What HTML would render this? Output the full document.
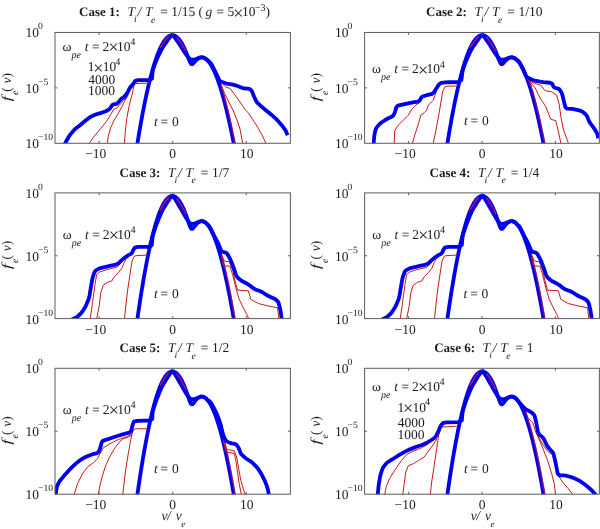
<!DOCTYPE html>
<html><head><meta charset="utf-8"><title>fe(v)</title>
<style>
html,body{margin:0;padding:0;background:#fff;}
body{width:600px;height:529px;overflow:hidden;}
#wrap{width:600px;height:529px;will-change:transform;}
svg{display:block;font-family:"Liberation Serif",serif;text-rendering:geometricPrecision;}
svg text{fill:#1c1c1c;}
</style></head><body>
<div id="wrap">
<svg width="600" height="529" viewBox="0 0 600 529">
<rect x="0" y="0" width="600" height="529" fill="#ffffff"/>
<defs>
<clipPath id="c1"><rect x="55.00" y="32.45" width="235.40" height="110.85"/></clipPath>
<clipPath id="c2"><rect x="364.60" y="32.45" width="234.80" height="110.85"/></clipPath>
<clipPath id="c3"><rect x="55.00" y="192.90" width="235.40" height="125.70"/></clipPath>
<clipPath id="c4"><rect x="364.60" y="192.90" width="234.80" height="125.70"/></clipPath>
<clipPath id="c5"><rect x="55.00" y="368.30" width="235.40" height="125.90"/></clipPath>
<clipPath id="c6"><rect x="364.60" y="368.30" width="234.80" height="125.90"/></clipPath>
</defs>
<g clip-path="url(#c1)" fill="none" stroke-linejoin="round" stroke-linecap="butt">
<path d="M128.16 176.56 L128.53 176.56 L128.90 176.56 L129.27 176.56 L129.63 176.56 L130.00 176.56 L130.37 176.56 L130.74 176.56 L131.10 176.56 L131.47 176.56 L131.84 176.56 L132.21 176.56 L132.58 175.59 L132.94 173.00 L133.31 170.44 L133.68 167.90 L134.05 165.38 L134.42 162.89 L134.78 160.42 L135.15 157.98 L135.52 155.56 L135.89 153.17 L136.25 150.79 L136.62 148.45 L136.99 146.13 L137.36 143.83 L137.73 141.55 L138.09 139.30 L138.46 137.07 L138.83 134.87 L139.20 132.69 L139.56 130.54 L139.93 128.41 L140.30 126.30 L140.67 124.22 L141.04 122.16 L141.40 120.13 L141.77 118.12 L142.14 116.13 L142.51 114.17 L142.87 112.23 L143.24 110.32 L143.61 108.43 L143.98 106.56 L144.35 104.72 L144.71 102.91 L145.08 101.11 L145.45 99.34 L145.82 97.60 L146.19 95.88 L146.55 94.18 L146.92 92.51 L147.29 90.86 L147.66 89.23 L148.02 87.63 L148.39 86.06 L148.76 84.50 L149.13 82.98 L149.50 81.47 L149.86 79.99 L150.23 78.53 L150.60 77.10 L150.97 75.69 L151.33 74.31 L151.70 72.95 L152.07 71.61 L152.44 70.30 L152.81 69.01 L153.17 67.75 L153.54 66.51 L153.91 65.30 L154.28 64.10 L154.64 62.94 L155.01 61.79 L155.38 60.67 L155.75 59.58 L156.12 58.51 L156.48 57.46 L156.85 56.44 L157.22 55.44 L157.59 54.46 L157.96 53.51 L158.32 52.59 L158.69 51.68 L159.06 50.80 L159.43 49.95 L159.79 49.12 L160.16 48.31 L160.53 47.53 L160.90 46.77 L161.27 46.04 L161.63 45.33 L162.00 44.64 L162.37 43.98 L162.74 43.34 L163.10 42.73 L163.47 42.14 L163.84 41.57 L164.21 41.03 L164.58 40.51 L164.94 40.02 L165.31 39.55 L165.68 39.11 L166.05 38.69 L166.41 38.29 L166.78 37.92 L167.15 37.57 L167.52 37.24 L167.89 36.94 L168.25 36.66 L168.62 36.41 L168.99 36.18 L169.36 35.98 L169.73 35.80 L170.09 35.64 L170.46 35.51 L170.83 35.40 L171.20 35.32 L171.56 35.26 L171.93 35.22 L172.30 35.21 L172.67 35.22 L173.04 35.26 L173.40 35.32 L173.77 35.40 L174.14 35.51 L174.51 35.64 L174.87 35.80 L175.24 35.98 L175.61 36.18 L175.98 36.41 L176.35 36.66 L176.71 36.94 L177.08 37.24 L177.45 37.57 L177.82 37.92 L178.18 38.29 L178.55 38.69 L178.92 39.11 L179.29 39.55 L179.66 40.02 L180.02 40.51 L180.39 41.03 L180.76 41.57 L181.13 42.14 L181.50 42.73 L181.86 43.34 L182.23 43.98 L182.60 44.64 L182.97 45.33 L183.33 46.04 L183.70 46.77 L184.07 47.53 L184.44 48.31 L184.81 49.12 L185.17 49.94 L185.54 50.80 L185.91 51.67 L186.28 52.57 L186.64 53.48 L187.01 54.42 L187.38 55.37 L187.75 56.34 L188.12 57.32 L188.48 58.30 L188.85 59.26 L189.22 60.21 L189.59 61.11 L189.95 61.95 L190.32 62.69 L190.69 63.31 L191.06 63.78 L191.43 64.08 L191.79 64.20 L192.16 64.18 L192.53 64.01 L192.90 63.75 L193.27 63.41 L193.63 63.02 L194.00 62.60 L194.37 62.17 L194.74 61.74 L195.10 61.32 L195.47 60.91 L195.84 60.52 L196.21 60.14 L196.58 59.79 L196.94 59.46 L197.31 59.16 L197.68 58.87 L198.05 58.61 L198.41 58.38 L198.78 58.17 L199.15 57.98 L199.52 57.82 L199.89 57.69 L200.25 57.58 L200.62 57.49 L200.99 57.43 L201.36 57.39 L201.72 57.38 L202.09 57.39 L202.46 57.43 L202.83 57.49 L203.20 57.57 L203.56 57.69 L203.93 57.82 L204.30 57.98 L204.67 58.16 L205.04 58.37 L205.40 58.60 L205.77 58.86 L206.14 59.14 L206.51 59.45 L206.87 59.77 L207.24 60.13 L207.61 60.50 L207.98 60.90 L208.35 61.32 L208.71 61.77 L209.08 62.24 L209.45 62.73 L209.82 63.25 L210.18 63.79 L210.55 64.35 L210.92 64.94 L211.29 65.55 L211.66 66.18 L212.02 66.83 L212.39 67.51 L212.76 68.21 L213.13 68.93 L213.49 69.68 L213.86 70.44 L214.23 71.23 L214.60 72.05 L214.97 72.88 L215.33 73.74 L215.70 74.62 L216.07 75.52 L216.44 76.44 L216.81 77.39 L217.17 78.35 L217.54 79.34 L217.91 80.35 L218.28 81.38 L218.64 82.44 L219.01 83.51 L219.38 84.61 L219.75 85.72 L220.12 86.86 L220.48 88.02 L220.85 89.20 L221.22 90.41 L221.59 91.63 L221.95 92.87 L222.32 94.14 L222.69 95.42 L223.06 96.73 L223.43 98.06 L223.79 99.40 L224.16 100.77 L224.53 102.16 L224.90 103.57 L225.26 105.00 L225.63 106.45 L226.00 107.92 L226.37 109.40 L226.74 110.91 L227.10 112.44 L227.47 113.99 L227.84 115.56 L228.21 117.15 L228.58 118.76 L228.94 120.38 L229.31 122.03 L229.68 123.70 L230.05 125.38 L230.41 127.09 L230.78 128.81 L231.15 130.55 L231.52 132.31 L231.89 134.09 L232.25 135.89 L232.62 137.71 L232.99 139.55 L233.36 141.41 L233.72 143.28 L234.09 145.17 L234.46 147.08 L234.83 149.01 L235.20 150.96 L235.56 152.93 L235.93 154.91 L236.30 156.92 L236.67 158.94 L237.03 160.97 L237.40 163.03 L237.77 165.10 L238.14 167.20 L238.51 169.31" stroke="#0000ee" stroke-width="3.80"/>
<path d="M124.10 147.00 L124.40 143.30 L125.30 132.00 L126.70 118.70 L129.30 105.30 L132.70 92.00 L134.20 83.60 L149.40 83.20" stroke="#c81a1a" stroke-width="1.00"/>
<path d="M106.90 147.00 L107.30 143.30 L108.30 136.00 L110.60 128.00 L113.90 120.70 L117.90 114.00 L121.90 106.70 L124.60 101.30 L126.60 98.00 L128.60 94.00" stroke="#c81a1a" stroke-width="1.00"/>
<path d="M86.90 147.00 L89.30 143.30 L93.90 136.70 L100.60 128.70 L106.60 121.30 L110.60 114.70 L113.90 109.10 L117.30 107.70 L119.30 105.30 L123.30 100.70 L125.90 98.00 L127.60 95.00" stroke="#c81a1a" stroke-width="1.00"/>
<path d="M221.65 87.76 L222.02 88.94 L222.39 90.13 L222.75 91.35 L223.12 92.59 L223.49 93.85 L223.86 95.13 L224.22 96.43 L224.59 97.75 L224.96 99.10 L225.33 100.46 L225.70 101.84 L226.06 103.25 L226.43 104.67 L226.80 106.12 L227.17 107.58 L227.53 109.07 L227.90 110.57 L228.27 112.09 L228.64 113.64 L229.01 115.20 L229.37 116.79 L229.74 118.39 L230.11 120.01 L230.48 121.65 L230.85 123.32 L231.21 125.00 L231.58 126.70 L231.95 128.42 L232.32 130.16 L232.68 131.91 L233.05 133.69 L233.42 135.48 L233.79 137.30 L234.16 139.13 L234.52 140.98 L234.89 142.85 L235.26 144.74 L235.63 146.65 L235.99 148.58 L236.36 150.52" stroke="#e01030" stroke-width="1.5" stroke-opacity="0.6"/>
<path d="M221.00 84.00 L224.40 93.10 L228.30 101.00 L232.90 110.00 L237.00 120.00 L240.00 129.00 L242.70 143.30 L243.30 147.00" stroke="#c81a1a" stroke-width="1.00"/>
<path d="M223.00 84.50 L225.50 86.80 L230.00 88.50 L234.00 93.70 L238.50 99.90 L245.40 110.00 L248.20 112.70 L256.30 125.00 L261.80 134.50 L265.90 143.30 L267.50 147.00" stroke="#c81a1a" stroke-width="1.00"/>
<path d="M63.50 147.00 L63.77 146.37 L64.83 143.93 L65.81 142.01 L68.59 136.99 L70.22 134.61 L73.78 130.39 L75.60 128.60 L79.10 125.90 L80.90 124.44 L84.40 121.47 L86.22 120.02 L89.78 117.38 L91.60 116.29 L95.10 114.71 L96.90 114.05 L100.40 113.05 L102.22 112.49 L105.78 111.31 L107.26 110.57 L109.44 108.92 L110.46 107.80 L112.24 105.10 L113.48 104.28 L116.52 103.82 L117.88 102.95 L120.12 100.05 L121.26 98.91 L123.44 97.39 L124.56 96.30 L126.74 93.60 L127.76 91.98 L129.54 88.42 L130.56 86.91 L132.74 84.59 L133.67 83.35 L135.13 80.85 L138.29 80.20 L149.11 80.20 L152.02 78.58 L152.47 72.31 L153.06 69.36 L154.91 64.16 L155.94 61.54 L158.13 56.57 L159.30 54.04 L161.68 49.21 L163.23 46.63 L166.87 41.44 L168.33 39.44 L170.32 36.88 L171.13 35.96 L172.29 34.93 L172.92 35.08 L174.18 36.69 L175.04 37.88 L177.13 40.88 L178.22 42.50 L180.36 45.79 L181.44 47.47 L183.53 50.69 L184.68 52.42 L187.06 55.93 L188.12 57.27 L189.87 58.95 L190.89 59.46 L193.07 59.75 L194.13 59.66 L196.08 59.00 L197.08 58.64 L199.02 57.91 L199.77 57.67 L200.74 57.48 L201.11 57.42 L201.60 57.39 L201.85 57.39 L202.34 57.42 L202.59 57.45 L203.07 57.55 L203.32 57.62 L203.81 57.78 L204.06 57.88 L204.54 58.11 L204.79 58.24 L205.28 58.53 L205.53 58.70 L206.01 59.05 L206.26 59.25 L206.75 59.67 L207.00 59.90 L207.48 60.38 L207.47 60.35 L206.94 59.75 L207.56 60.28 L210.53 62.92 L211.88 64.76 L214.12 69.24 L215.19 71.45 L217.11 75.55 L217.97 77.38 L219.43 80.42 L220.29 81.37 L222.21 82.03 L223.46 82.47 L226.44 83.53 L228.17 83.94 L231.93 84.46 L233.85 84.89 L237.55 86.01 L239.37 86.67 L242.73 88.13 L244.48 88.52 L247.92 88.58 L249.28 88.91 L251.12 90.09 L251.89 91.15 L253.01 94.05 L253.64 95.55 L254.96 98.45 L255.59 99.76 L256.71 101.94 L258.04 103.44 L262.06 107.06 L264.26 108.92 L268.74 112.48 L271.06 114.44 L275.54 118.46 L277.63 120.55 L281.26 124.65 L282.78 126.50 L285.02 129.60 L285.94 131.22 L287.26 134.38 L287.60 135.20" stroke="#0000ee" stroke-width="3.80"/>
<path d="M160.05 47.67 L165.56 39.80 L168.58 35.92" stroke="#e01040" stroke-width="1.4" stroke-opacity="0.85"/>
<path d="M176.76 36.81 L179.92 41.35 L183.16 46.34 L186.32 51.22" stroke="#e01040" stroke-width="1.4" stroke-opacity="0.85"/>
</g>
<rect x="55.00" y="32.45" width="235.40" height="110.85" fill="none" stroke="#5c5c5c" stroke-width="1"/>
<path d="M99.14 143.30 v-2.4 M99.14 32.45 v2.4 M172.70 143.30 v-2.4 M172.70 32.45 v2.4 M246.26 143.30 v-2.4 M246.26 32.45 v2.4 M55.00 87.88 h2.4 M290.40 87.88 h-2.4" stroke="#5c5c5c" stroke-width="1" fill="none"/>
<text x="85.14" y="158.30" font-size="13.50" text-anchor="start">−10</text>
<text x="172.70" y="158.30" font-size="13.50" text-anchor="middle">0</text>
<text x="246.76" y="158.30" font-size="13.50" text-anchor="middle">10</text>
<text x="25.50" y="37.45" font-size="13.50" text-anchor="start">10</text>
<text x="38.00" y="29.45" font-size="9.60" text-anchor="start">0</text>
<text x="25.50" y="92.88" font-size="13.50" text-anchor="start">10</text>
<text x="38.00" y="84.88" font-size="9.60" text-anchor="start">−5</text>
<text x="25.50" y="148.30" font-size="13.50" text-anchor="start">10</text>
<text x="38.00" y="140.30" font-size="9.60" text-anchor="start">−10</text>
<g transform="translate(10.80 87.88) rotate(-90)">
<text transform="translate(-13.6 0) scale(1.45 1)" x="0" y="0" font-size="13.50" font-style="italic">f</text>
<text x="-7.2" y="7.4" font-size="9.80" font-style="italic">e</text>
<text x="-3.8" y="0" font-size="13.50">(</text>
<text x="4.5" y="0" font-size="13.50" font-style="italic">v</text>
<text x="10.5" y="0" font-size="13.50">)</text>
</g>
<text x="79.00" y="16.05" font-size="13.00" font-weight="bold" text-anchor="start">Case 1:</text>
<text x="127.40" y="16.05" font-size="13.50" font-style="italic" text-anchor="start">T</text>
<text x="134.00" y="22.25" font-size="9.80" font-style="italic" text-anchor="start">i</text>
<text x="137.60" y="16.05" font-size="13.50" font-style="italic" text-anchor="start">/</text>
<text x="145.00" y="16.05" font-size="13.50" font-style="italic" text-anchor="start">T</text>
<text x="151.00" y="22.65" font-size="9.80" font-style="italic" text-anchor="start">e</text>
<text x="160.20" y="16.05" font-size="13.50" text-anchor="start">= 1/15 (</text>
<text x="205.60" y="16.05" font-size="13.50" font-style="italic" text-anchor="start">g</text>
<text x="216.60" y="16.05" font-size="13.50" text-anchor="start">= 5</text>
<text x="233.35" y="18.55" font-size="18.00" text-anchor="start">×</text>
<text x="242.00" y="16.05" font-size="13.50" text-anchor="start">10</text>
<text x="254.80" y="10.85" font-size="10.20" text-anchor="start">−3</text>
<text x="265.60" y="16.05" font-size="13.50" text-anchor="start">)</text>
<text x="62.50" y="50.70" font-size="13.50" text-anchor="start">ω</text>
<text x="71.50" y="57.50" font-size="10.00" font-style="italic" text-anchor="start">pe</text>
<text x="84.80" y="50.70" font-size="13.50" font-style="italic" text-anchor="start">t</text>
<text x="92.10" y="50.70" font-size="13.50" text-anchor="start">=</text>
<text x="102.50" y="50.70" font-size="13.50" text-anchor="start">2</text>
<text x="108.60" y="53.20" font-size="18.00" text-anchor="start">×</text>
<text x="117.00" y="50.70" font-size="13.50" text-anchor="start">10</text>
<text x="130.20" y="45.30" font-size="10.20" text-anchor="start">4</text>
<text x="87.70" y="71.30" font-size="13.50" text-anchor="start">1</text>
<text x="93.25" y="73.80" font-size="18.00" text-anchor="start">×</text>
<text x="102.70" y="71.30" font-size="13.50" text-anchor="start">10</text>
<text x="115.20" y="64.90" font-size="10.20" text-anchor="start">4</text>
<text x="88.30" y="84.00" font-size="13.50" text-anchor="start">4000</text>
<text x="88.10" y="95.30" font-size="13.50" text-anchor="start">1000</text>
<text x="154.00" y="125.80" font-size="13.50" font-style="italic" text-anchor="start">t</text>
<text x="160.60" y="125.80" font-size="13.50" text-anchor="start">=</text>
<text x="172.00" y="125.80" font-size="13.50" text-anchor="start">0</text>
<g clip-path="url(#c2)" fill="none" stroke-linejoin="round" stroke-linecap="butt">
<path d="M438.18 176.56 L438.54 176.56 L438.91 176.56 L439.28 176.56 L439.64 176.56 L440.01 176.56 L440.38 176.56 L440.74 176.56 L441.11 176.56 L441.48 176.56 L441.84 176.56 L442.21 176.56 L442.58 175.59 L442.94 173.00 L443.31 170.44 L443.68 167.90 L444.04 165.38 L444.41 162.89 L444.78 160.42 L445.15 157.98 L445.51 155.56 L445.88 153.17 L446.25 150.79 L446.61 148.45 L446.98 146.13 L447.35 143.83 L447.71 141.55 L448.08 139.30 L448.45 137.07 L448.81 134.87 L449.18 132.69 L449.55 130.54 L449.91 128.41 L450.28 126.30 L450.65 124.22 L451.02 122.16 L451.38 120.13 L451.75 118.12 L452.12 116.13 L452.48 114.17 L452.85 112.23 L453.22 110.32 L453.58 108.43 L453.95 106.56 L454.32 104.72 L454.68 102.91 L455.05 101.11 L455.42 99.34 L455.78 97.60 L456.15 95.88 L456.52 94.18 L456.89 92.51 L457.25 90.86 L457.62 89.23 L457.99 87.63 L458.35 86.06 L458.72 84.50 L459.09 82.98 L459.45 81.47 L459.82 79.99 L460.19 78.53 L460.55 77.10 L460.92 75.69 L461.29 74.31 L461.65 72.95 L462.02 71.61 L462.39 70.30 L462.76 69.01 L463.12 67.75 L463.49 66.51 L463.86 65.30 L464.22 64.10 L464.59 62.94 L464.96 61.79 L465.32 60.67 L465.69 59.58 L466.06 58.51 L466.42 57.46 L466.79 56.44 L467.16 55.44 L467.52 54.46 L467.89 53.51 L468.26 52.59 L468.63 51.68 L468.99 50.80 L469.36 49.95 L469.73 49.12 L470.09 48.31 L470.46 47.53 L470.83 46.77 L471.19 46.04 L471.56 45.33 L471.93 44.64 L472.29 43.98 L472.66 43.34 L473.03 42.73 L473.39 42.14 L473.76 41.57 L474.13 41.03 L474.50 40.51 L474.86 40.02 L475.23 39.55 L475.60 39.11 L475.96 38.69 L476.33 38.29 L476.70 37.92 L477.06 37.57 L477.43 37.24 L477.80 36.94 L478.16 36.66 L478.53 36.41 L478.90 36.18 L479.26 35.98 L479.63 35.80 L480.00 35.64 L480.37 35.51 L480.73 35.40 L481.10 35.32 L481.47 35.26 L481.83 35.22 L482.20 35.21 L482.57 35.22 L482.93 35.26 L483.30 35.32 L483.67 35.40 L484.03 35.51 L484.40 35.64 L484.77 35.80 L485.13 35.98 L485.50 36.18 L485.87 36.41 L486.24 36.66 L486.60 36.94 L486.97 37.24 L487.34 37.57 L487.70 37.92 L488.07 38.29 L488.44 38.69 L488.80 39.11 L489.17 39.55 L489.54 40.02 L489.90 40.51 L490.27 41.03 L490.64 41.57 L491.00 42.14 L491.37 42.73 L491.74 43.34 L492.11 43.98 L492.47 44.64 L492.84 45.33 L493.21 46.04 L493.57 46.77 L493.94 47.53 L494.31 48.31 L494.67 49.12 L495.04 49.94 L495.41 50.80 L495.77 51.67 L496.14 52.57 L496.51 53.48 L496.87 54.42 L497.24 55.37 L497.61 56.34 L497.98 57.32 L498.34 58.30 L498.71 59.26 L499.08 60.21 L499.44 61.11 L499.81 61.95 L500.18 62.69 L500.54 63.31 L500.91 63.78 L501.28 64.08 L501.64 64.20 L502.01 64.18 L502.38 64.01 L502.74 63.75 L503.11 63.41 L503.48 63.02 L503.85 62.60 L504.21 62.17 L504.58 61.74 L504.95 61.32 L505.31 60.91 L505.68 60.52 L506.05 60.14 L506.41 59.79 L506.78 59.46 L507.15 59.16 L507.51 58.87 L507.88 58.61 L508.25 58.38 L508.61 58.17 L508.98 57.98 L509.35 57.82 L509.72 57.69 L510.08 57.58 L510.45 57.49 L510.82 57.43 L511.18 57.39 L511.55 57.38 L511.92 57.39 L512.28 57.43 L512.65 57.49 L513.02 57.57 L513.38 57.69 L513.75 57.82 L514.12 57.98 L514.48 58.16 L514.85 58.37 L515.22 58.60 L515.59 58.86 L515.95 59.14 L516.32 59.45 L516.69 59.77 L517.05 60.13 L517.42 60.50 L517.79 60.90 L518.15 61.32 L518.52 61.77 L518.89 62.24 L519.25 62.73 L519.62 63.25 L519.99 63.79 L520.35 64.35 L520.72 64.94 L521.09 65.55 L521.46 66.18 L521.82 66.83 L522.19 67.51 L522.56 68.21 L522.92 68.93 L523.29 69.68 L523.66 70.44 L524.02 71.23 L524.39 72.05 L524.76 72.88 L525.12 73.74 L525.49 74.62 L525.86 75.52 L526.22 76.44 L526.59 77.39 L526.96 78.35 L527.33 79.34 L527.69 80.35 L528.06 81.38 L528.43 82.44 L528.79 83.51 L529.16 84.61 L529.53 85.72 L529.89 86.86 L530.26 88.02 L530.63 89.20 L530.99 90.41 L531.36 91.63 L531.73 92.87 L532.09 94.14 L532.46 95.42 L532.83 96.73 L533.20 98.06 L533.56 99.40 L533.93 100.77 L534.30 102.16 L534.66 103.57 L535.03 105.00 L535.40 106.45 L535.76 107.92 L536.13 109.40 L536.50 110.91 L536.86 112.44 L537.23 113.99 L537.60 115.56 L537.96 117.15 L538.33 118.76 L538.70 120.38 L539.07 122.03 L539.43 123.70 L539.80 125.38 L540.17 127.09 L540.53 128.81 L540.90 130.55 L541.27 132.31 L541.63 134.09 L542.00 135.89 L542.37 137.71 L542.73 139.55 L543.10 141.41 L543.47 143.28 L543.83 145.17 L544.20 147.08 L544.57 149.01 L544.94 150.96 L545.30 152.93 L545.67 154.91 L546.04 156.92 L546.40 158.94 L546.77 160.97 L547.14 163.03 L547.50 165.10 L547.87 167.20 L548.24 169.31" stroke="#0000ee" stroke-width="3.80"/>
<path d="M433.00 146.00 L433.30 143.00 L435.80 131.00 L438.30 117.70 L440.80 102.70 L442.80 91.00 L445.00 86.80 L447.00 86.30 L457.50 86.00" stroke="#c81a1a" stroke-width="1.00"/>
<path d="M412.00 146.00 L412.50 143.00 L415.00 134.30 L418.30 124.30 L420.80 115.20 L424.20 112.70 L426.70 110.20 L428.30 105.20 L433.30 100.20 L435.30 94.30 L436.50 90.00" stroke="#c81a1a" stroke-width="1.00"/>
<path d="M394.20 146.00 L394.20 143.00 L394.70 131.00 L397.50 126.00 L403.30 120.20 L408.30 115.20 L411.70 109.30 L415.80 105.20 L419.20 102.70" stroke="#c81a1a" stroke-width="1.00"/>
<path d="M528.75 79.82 L529.12 80.84 L529.48 81.88 L529.85 82.94 L530.22 84.03 L530.58 85.14 L530.95 86.26 L531.32 87.41 L531.69 88.58 L532.05 89.77 L532.42 90.99 L532.79 92.22 L533.15 93.47 L533.52 94.75 L533.89 96.04 L534.25 97.36 L534.62 98.70 L534.99 100.05 L535.35 101.43 L535.72 102.83 L536.09 104.25 L536.45 105.68 L536.82 107.14 L537.19 108.62 L537.56 110.12 L537.92 111.64 L538.29 113.18 L538.66 114.73 L539.02 116.31 L539.39 117.91 L539.76 119.53 L540.12 121.16 L540.49 122.82 L540.86 124.49 L541.22 126.19 L541.59 127.90 L541.96 129.64 L542.32 131.39 L542.69 133.16 L543.06 134.95 L543.42 136.76 L543.79 138.58 L544.16 140.43 L544.53 142.29 L544.89 144.18 L545.26 146.08 L545.63 148.00 L545.99 149.94 L546.36 151.89" stroke="#e01030" stroke-width="1.5" stroke-opacity="0.6"/>
<path d="M527.00 79.00 L529.20 81.00 L535.00 87.70 L540.00 97.70 L545.80 106.80 L550.80 119.30 L555.80 120.70 L558.30 131.00 L560.80 143.00 L561.20 146.00" stroke="#c81a1a" stroke-width="1.00"/>
<path d="M530.00 81.00 L533.30 83.00 L540.80 85.20 L545.00 90.70 L551.70 91.80 L556.70 95.20 L559.20 104.30 L560.80 116.00 L563.30 129.30 L568.30 143.00 L569.50 146.00" stroke="#c81a1a" stroke-width="1.00"/>
<path d="M373.60 146.00 L373.62 145.49 L373.68 143.51 L373.78 141.81 L374.11 137.19 L374.47 134.72 L375.53 129.78 L376.51 127.65 L379.29 124.35 L381.14 122.73 L385.56 119.77 L387.82 118.49 L392.18 116.51 L393.64 115.15 L394.96 111.85 L395.54 110.15 L396.46 106.85 L397.82 105.71 L402.18 104.59 L404.73 104.03 L410.27 102.97 L412.97 102.46 L417.92 101.54 L419.62 100.53 L421.27 97.56 L422.55 96.53 L425.85 95.47 L427.82 94.91 L432.18 93.79 L433.88 92.51 L436.12 88.69 L437.26 86.90 L439.44 83.80 L441.14 82.88 L445.56 82.42 L449.16 82.25 L458.74 82.05 L461.43 80.08 L462.31 72.62 L463.01 69.36 L464.85 64.16 L465.89 61.54 L468.06 56.57 L469.24 54.04 L471.61 49.21 L473.16 46.63 L476.79 41.44 L478.24 39.44 L480.22 36.88 L481.03 35.96 L482.19 34.93 L482.82 35.08 L484.08 36.69 L484.94 37.88 L487.02 40.88 L488.11 42.50 L490.24 45.79 L491.32 47.47 L493.40 50.69 L494.55 52.42 L496.92 55.93 L497.98 57.27 L499.73 58.95 L500.74 59.46 L502.92 59.75 L503.98 59.66 L505.91 59.00 L506.91 58.64 L508.85 57.91 L509.60 57.67 L510.57 57.48 L510.94 57.42 L511.43 57.39 L511.67 57.39 L512.16 57.42 L512.41 57.45 L512.89 57.55 L513.14 57.62 L513.63 57.78 L513.88 57.88 L514.36 58.11 L514.61 58.24 L515.09 58.53 L515.34 58.70 L515.83 59.05 L516.08 59.25 L516.56 59.67 L516.81 59.90 L517.30 60.38 L517.72 60.69 L518.90 61.41 L519.90 62.98 L522.60 68.32 L523.81 70.94 L525.79 75.76 L527.49 77.56 L532.11 79.74 L534.73 80.59 L540.27 81.71 L543.40 82.15 L550.00 82.75 L552.07 83.68 L553.53 86.72 L554.80 87.74 L558.30 88.66 L559.68 89.65 L561.52 92.55 L562.37 94.90 L563.83 101.10 L564.47 103.69 L565.53 107.51 L567.07 108.58 L572.02 108.91 L574.73 109.34 L580.27 110.66 L582.55 111.71 L585.85 114.49 L587.12 116.32 L588.77 120.68 L590.05 122.94 L593.35 127.36 L594.73 129.35 L596.77 132.65 L597.47 134.33 L598.13 137.57 L598.30 138.40" stroke="#0000ee" stroke-width="3.80"/>
<path d="M469.97 47.67 L475.47 39.80 L478.48 35.92" stroke="#e01040" stroke-width="1.4" stroke-opacity="0.85"/>
<path d="M486.65 36.81 L489.81 41.35 L493.03 46.34 L496.19 51.22" stroke="#e01040" stroke-width="1.4" stroke-opacity="0.85"/>
</g>
<rect x="364.60" y="32.45" width="234.80" height="110.85" fill="none" stroke="#5c5c5c" stroke-width="1"/>
<path d="M408.62 143.30 v-2.4 M408.62 32.45 v2.4 M482.00 143.30 v-2.4 M482.00 32.45 v2.4 M555.38 143.30 v-2.4 M555.38 32.45 v2.4 M364.60 87.88 h2.4 M599.40 87.88 h-2.4" stroke="#5c5c5c" stroke-width="1" fill="none"/>
<text x="394.62" y="158.30" font-size="13.50" text-anchor="start">−10</text>
<text x="482.00" y="158.30" font-size="13.50" text-anchor="middle">0</text>
<text x="555.88" y="158.30" font-size="13.50" text-anchor="middle">10</text>
<text x="335.10" y="37.45" font-size="13.50" text-anchor="start">10</text>
<text x="347.60" y="29.45" font-size="9.60" text-anchor="start">0</text>
<text x="335.10" y="92.88" font-size="13.50" text-anchor="start">10</text>
<text x="347.60" y="84.88" font-size="9.60" text-anchor="start">−5</text>
<text x="335.10" y="148.30" font-size="13.50" text-anchor="start">10</text>
<text x="347.60" y="140.30" font-size="9.60" text-anchor="start">−10</text>
<g transform="translate(320.40 87.88) rotate(-90)">
<text transform="translate(-13.6 0) scale(1.45 1)" x="0" y="0" font-size="13.50" font-style="italic">f</text>
<text x="-7.2" y="7.4" font-size="9.80" font-style="italic">e</text>
<text x="-3.8" y="0" font-size="13.50">(</text>
<text x="4.5" y="0" font-size="13.50" font-style="italic">v</text>
<text x="10.5" y="0" font-size="13.50">)</text>
</g>
<text x="426.00" y="16.05" font-size="13.00" font-weight="bold" text-anchor="start">Case 2:</text>
<text x="474.40" y="16.05" font-size="13.50" font-style="italic" text-anchor="start">T</text>
<text x="481.00" y="22.25" font-size="9.80" font-style="italic" text-anchor="start">i</text>
<text x="484.60" y="16.05" font-size="13.50" font-style="italic" text-anchor="start">/</text>
<text x="492.00" y="16.05" font-size="13.50" font-style="italic" text-anchor="start">T</text>
<text x="498.00" y="22.65" font-size="9.80" font-style="italic" text-anchor="start">e</text>
<text x="507.20" y="16.05" font-size="13.50" text-anchor="start">=</text>
<text x="518.60" y="16.05" font-size="13.50" text-anchor="start">1/10</text>
<text x="372.00" y="73.00" font-size="13.50" text-anchor="start">ω</text>
<text x="381.00" y="79.80" font-size="10.00" font-style="italic" text-anchor="start">pe</text>
<text x="394.30" y="73.00" font-size="13.50" font-style="italic" text-anchor="start">t</text>
<text x="401.60" y="73.00" font-size="13.50" text-anchor="start">=</text>
<text x="412.00" y="73.00" font-size="13.50" text-anchor="start">2</text>
<text x="418.10" y="75.50" font-size="18.00" text-anchor="start">×</text>
<text x="426.50" y="73.00" font-size="13.50" text-anchor="start">10</text>
<text x="439.70" y="67.60" font-size="10.20" text-anchor="start">4</text>
<text x="464.00" y="125.20" font-size="13.50" font-style="italic" text-anchor="start">t</text>
<text x="470.60" y="125.20" font-size="13.50" text-anchor="start">=</text>
<text x="482.00" y="125.20" font-size="13.50" text-anchor="start">0</text>
<g clip-path="url(#c3)" fill="none" stroke-linejoin="round" stroke-linecap="butt">
<path d="M128.16 356.31 L128.53 356.31 L128.90 356.31 L129.27 356.31 L129.63 356.31 L130.00 356.31 L130.37 356.31 L130.74 356.31 L131.10 356.31 L131.47 356.31 L131.84 356.31 L132.21 356.31 L132.58 355.21 L132.94 352.28 L133.31 349.37 L133.68 346.49 L134.05 343.64 L134.42 340.81 L134.78 338.02 L135.15 335.25 L135.52 332.50 L135.89 329.79 L136.25 327.10 L136.62 324.44 L136.99 321.80 L137.36 319.20 L137.73 316.62 L138.09 314.07 L138.46 311.54 L138.83 309.04 L139.20 306.57 L139.56 304.13 L139.93 301.71 L140.30 299.33 L140.67 296.96 L141.04 294.63 L141.40 292.32 L141.77 290.05 L142.14 287.79 L142.51 285.57 L142.87 283.37 L143.24 281.20 L143.61 279.06 L143.98 276.94 L144.35 274.86 L144.71 272.79 L145.08 270.76 L145.45 268.76 L145.82 266.78 L146.19 264.82 L146.55 262.90 L146.92 261.00 L147.29 259.13 L147.66 257.29 L148.02 255.48 L148.39 253.69 L148.76 251.93 L149.13 250.19 L149.50 248.49 L149.86 246.81 L150.23 245.16 L150.60 243.53 L150.97 241.94 L151.33 240.37 L151.70 238.83 L152.07 237.31 L152.44 235.82 L152.81 234.36 L153.17 232.93 L153.54 231.52 L153.91 230.15 L154.28 228.79 L154.64 227.47 L155.01 226.17 L155.38 224.90 L155.75 223.66 L156.12 222.45 L156.48 221.26 L156.85 220.10 L157.22 218.97 L157.59 217.86 L157.96 216.78 L158.32 215.73 L158.69 214.71 L159.06 213.71 L159.43 212.74 L159.79 211.80 L160.16 210.89 L160.53 210.00 L160.90 209.14 L161.27 208.31 L161.63 207.50 L162.00 206.73 L162.37 205.98 L162.74 205.25 L163.10 204.56 L163.47 203.89 L163.84 203.25 L164.21 202.63 L164.58 202.05 L164.94 201.49 L165.31 200.95 L165.68 200.45 L166.05 199.97 L166.41 199.52 L166.78 199.10 L167.15 198.70 L167.52 198.33 L167.89 197.99 L168.25 197.68 L168.62 197.39 L168.99 197.13 L169.36 196.90 L169.73 196.70 L170.09 196.52 L170.46 196.37 L170.83 196.24 L171.20 196.15 L171.56 196.08 L171.93 196.04 L172.30 196.03 L172.67 196.04 L173.04 196.08 L173.40 196.15 L173.77 196.24 L174.14 196.37 L174.51 196.52 L174.87 196.70 L175.24 196.90 L175.61 197.13 L175.98 197.39 L176.35 197.68 L176.71 197.99 L177.08 198.33 L177.45 198.70 L177.82 199.10 L178.18 199.52 L178.55 199.97 L178.92 200.45 L179.29 200.95 L179.66 201.49 L180.02 202.05 L180.39 202.63 L180.76 203.25 L181.13 203.89 L181.50 204.56 L181.86 205.25 L182.23 205.98 L182.60 206.73 L182.97 207.50 L183.33 208.31 L183.70 209.14 L184.07 210.00 L184.44 210.89 L184.81 211.80 L185.17 212.74 L185.54 213.70 L185.91 214.70 L186.28 215.71 L186.64 216.75 L187.01 217.81 L187.38 218.90 L187.75 219.99 L188.12 221.10 L188.48 222.21 L188.85 223.31 L189.22 224.38 L189.59 225.40 L189.95 226.35 L190.32 227.19 L190.69 227.89 L191.06 228.42 L191.43 228.76 L191.79 228.91 L192.16 228.88 L192.53 228.69 L192.90 228.39 L193.27 228.00 L193.63 227.56 L194.00 227.09 L194.37 226.60 L194.74 226.12 L195.10 225.64 L195.47 225.17 L195.84 224.73 L196.21 224.30 L196.58 223.90 L196.94 223.53 L197.31 223.18 L197.68 222.86 L198.05 222.57 L198.41 222.30 L198.78 222.06 L199.15 221.85 L199.52 221.67 L199.89 221.52 L200.25 221.39 L200.62 221.29 L200.99 221.22 L201.36 221.18 L201.72 221.17 L202.09 221.18 L202.46 221.22 L202.83 221.29 L203.20 221.39 L203.56 221.52 L203.93 221.67 L204.30 221.85 L204.67 222.06 L205.04 222.30 L205.40 222.56 L205.77 222.85 L206.14 223.17 L206.51 223.51 L206.87 223.88 L207.24 224.28 L207.61 224.71 L207.98 225.16 L208.35 225.64 L208.71 226.15 L209.08 226.68 L209.45 227.24 L209.82 227.82 L210.18 228.44 L210.55 229.07 L210.92 229.74 L211.29 230.43 L211.66 231.15 L212.02 231.89 L212.39 232.66 L212.76 233.45 L213.13 234.27 L213.49 235.11 L213.86 235.98 L214.23 236.88 L214.60 237.80 L214.97 238.75 L215.33 239.72 L215.70 240.72 L216.07 241.74 L216.44 242.78 L216.81 243.86 L217.17 244.95 L217.54 246.07 L217.91 247.22 L218.28 248.39 L218.64 249.58 L219.01 250.80 L219.38 252.04 L219.75 253.31 L220.12 254.60 L220.48 255.92 L220.85 257.26 L221.22 258.62 L221.59 260.01 L221.95 261.42 L222.32 262.85 L222.69 264.31 L223.06 265.79 L223.43 267.30 L223.79 268.82 L224.16 270.38 L224.53 271.95 L224.90 273.55 L225.26 275.17 L225.63 276.81 L226.00 278.48 L226.37 280.16 L226.74 281.88 L227.10 283.61 L227.47 285.37 L227.84 287.14 L228.21 288.94 L228.58 290.77 L228.94 292.61 L229.31 294.48 L229.68 296.37 L230.05 298.28 L230.41 300.21 L230.78 302.17 L231.15 304.14 L231.52 306.14 L231.89 308.16 L232.25 310.20 L232.62 312.26 L232.99 314.35 L233.36 316.45 L233.72 318.58 L234.09 320.72 L234.46 322.89 L234.83 325.08 L235.20 327.29 L235.56 329.52 L235.93 331.77 L236.30 334.04 L236.67 336.33 L237.03 338.64 L237.40 340.97 L237.77 343.33 L238.14 345.70 L238.51 348.09" stroke="#0000ee" stroke-width="3.80"/>
<path d="M124.20 322.00 L124.50 318.50 L125.80 306.00 L127.50 291.00 L130.00 274.30 L132.00 261.00 L134.20 256.40 L136.00 255.70 L147.50 255.00" stroke="#c81a1a" stroke-width="1.00"/>
<path d="M96.20 322.00 L96.70 318.50 L99.20 306.00 L100.80 292.70 L103.30 285.20 L107.50 282.30 L111.70 281.00 L114.20 276.80 L118.30 272.70 L121.70 268.50 L124.20 262.70 L125.80 259.30" stroke="#c81a1a" stroke-width="1.00"/>
<path d="M89.90 322.00 L90.30 318.50 L92.50 302.70 L95.00 284.30 L96.70 274.30 L100.00 271.80 L108.30 269.30 L116.70 267.30 L120.00 264.30 L124.20 259.30 L128.30 256.80" stroke="#c81a1a" stroke-width="1.00"/>
<path d="M221.75 255.98 L222.12 257.32 L222.49 258.68 L222.85 260.07 L223.22 261.48 L223.59 262.92 L223.96 264.38 L224.32 265.86 L224.69 267.36 L225.06 268.89 L225.43 270.45 L225.80 272.02 L226.16 273.62 L226.53 275.24 L226.90 276.88 L227.27 278.55 L227.63 280.24 L228.00 281.95 L228.37 283.69 L228.74 285.44 L229.11 287.22 L229.47 289.03 L229.84 290.85 L230.21 292.70 L230.58 294.56 L230.95 296.46 L231.31 298.37 L231.68 300.30 L232.05 302.26 L232.42 304.23 L232.78 306.23 L233.15 308.25 L233.52 310.29 L233.89 312.36 L234.26 314.44 L234.62 316.55 L234.99 318.67 L235.36 320.82 L235.73 322.99 L236.09 325.18 L236.46 327.39" stroke="#e01030" stroke-width="1.5" stroke-opacity="0.6"/>
<path d="M221.50 257.00 L223.30 265.70 L230.00 266.30 L232.50 274.30 L235.80 287.70 L239.20 299.30 L243.30 307.70 L246.70 314.30 L248.70 318.50 L249.50 322.00" stroke="#c81a1a" stroke-width="1.00"/>
<path d="M221.50 254.30 L224.20 261.00 L229.20 261.80 L232.50 269.30 L235.00 281.00 L237.50 290.20 L248.30 290.70 L250.80 299.30 L258.30 303.50 L268.30 306.00 L277.50 307.70 L278.80 318.50 L279.00 322.00" stroke="#c81a1a" stroke-width="1.00"/>
<path d="M71.50 319.80 L71.92 319.56 L73.57 318.64 L74.46 318.21 L76.24 317.49 L77.55 316.52 L80.85 313.48 L82.40 311.56 L85.10 307.14 L86.38 304.59 L88.62 299.11 L89.47 296.00 L90.53 289.40 L91.09 286.03 L92.21 279.57 L92.92 276.69 L94.57 272.01 L95.85 270.34 L99.15 268.56 L101.41 267.79 L106.89 266.61 L109.86 265.94 L115.94 264.56 L118.35 263.37 L121.65 260.13 L123.49 258.60 L127.31 255.90 L128.90 254.91 L131.21 253.79 L132.07 252.84 L133.13 250.26 L133.77 249.12 L135.23 247.28 L138.34 246.80 L148.96 246.80 L151.85 245.01 L152.43 238.06 L153.06 234.75 L154.91 228.86 L155.94 225.89 L158.13 220.25 L159.30 217.38 L161.68 211.91 L163.23 208.98 L166.87 203.09 L168.33 200.83 L170.32 197.92 L171.13 196.87 L172.29 195.71 L172.92 195.88 L174.18 197.71 L175.04 199.06 L177.13 202.46 L178.22 204.29 L180.36 208.03 L181.44 209.93 L183.53 213.58 L184.68 215.55 L187.06 219.53 L188.12 221.05 L189.87 222.95 L190.89 223.53 L193.07 223.86 L194.13 223.76 L196.08 223.01 L197.08 222.60 L199.02 221.77 L199.77 221.50 L200.74 221.28 L201.11 221.21 L201.60 221.18 L201.85 221.18 L202.34 221.21 L202.59 221.25 L203.07 221.36 L203.32 221.44 L203.81 221.62 L204.06 221.74 L204.54 221.99 L204.79 222.14 L205.28 222.47 L205.53 222.66 L206.01 223.06 L206.26 223.29 L206.75 223.76 L207.00 224.02 L207.48 224.57 L207.95 225.01 L209.26 226.20 L210.38 228.12 L213.42 234.38 L214.90 237.28 L217.60 242.22 L218.88 244.91 L221.12 250.39 L222.55 251.95 L225.85 252.55 L227.40 253.97 L230.10 258.92 L231.38 261.75 L233.62 267.75 L234.62 270.57 L236.27 275.52 L237.55 277.51 L240.85 280.29 L242.82 281.56 L247.18 283.74 L249.30 285.10 L253.20 288.20 L255.47 289.48 L260.42 291.32 L262.82 292.51 L267.18 295.29 L269.44 296.51 L273.86 298.49 L275.56 299.48 L277.74 301.32 L278.64 303.07 L279.96 308.02 L280.54 310.86 L281.46 316.94 L281.75 319.09 L281.95 321.40 L282.00 322.00" stroke="#0000ee" stroke-width="3.80"/>
<path d="M160.05 210.20 L165.56 201.27 L168.58 196.87" stroke="#e01040" stroke-width="1.4" stroke-opacity="0.85"/>
<path d="M176.76 197.88 L179.92 203.03 L183.16 208.69 L186.32 214.22" stroke="#e01040" stroke-width="1.4" stroke-opacity="0.85"/>
</g>
<rect x="55.00" y="192.90" width="235.40" height="125.70" fill="none" stroke="#5c5c5c" stroke-width="1"/>
<path d="M99.14 318.60 v-2.4 M99.14 192.90 v2.4 M172.70 318.60 v-2.4 M172.70 192.90 v2.4 M246.26 318.60 v-2.4 M246.26 192.90 v2.4 M55.00 255.75 h2.4 M290.40 255.75 h-2.4" stroke="#5c5c5c" stroke-width="1" fill="none"/>
<text x="85.14" y="333.60" font-size="13.50" text-anchor="start">−10</text>
<text x="172.70" y="333.60" font-size="13.50" text-anchor="middle">0</text>
<text x="246.76" y="333.60" font-size="13.50" text-anchor="middle">10</text>
<text x="25.50" y="197.90" font-size="13.50" text-anchor="start">10</text>
<text x="38.00" y="189.90" font-size="9.60" text-anchor="start">0</text>
<text x="25.50" y="260.75" font-size="13.50" text-anchor="start">10</text>
<text x="38.00" y="252.75" font-size="9.60" text-anchor="start">−5</text>
<text x="25.50" y="323.60" font-size="13.50" text-anchor="start">10</text>
<text x="38.00" y="315.60" font-size="9.60" text-anchor="start">−10</text>
<g transform="translate(10.80 255.75) rotate(-90)">
<text transform="translate(-13.6 0) scale(1.45 1)" x="0" y="0" font-size="13.50" font-style="italic">f</text>
<text x="-7.2" y="7.4" font-size="9.80" font-style="italic">e</text>
<text x="-3.8" y="0" font-size="13.50">(</text>
<text x="4.5" y="0" font-size="13.50" font-style="italic">v</text>
<text x="10.5" y="0" font-size="13.50">)</text>
</g>
<text x="119.50" y="176.50" font-size="13.00" font-weight="bold" text-anchor="start">Case 3:</text>
<text x="167.90" y="176.50" font-size="13.50" font-style="italic" text-anchor="start">T</text>
<text x="174.50" y="182.70" font-size="9.80" font-style="italic" text-anchor="start">i</text>
<text x="178.10" y="176.50" font-size="13.50" font-style="italic" text-anchor="start">/</text>
<text x="185.50" y="176.50" font-size="13.50" font-style="italic" text-anchor="start">T</text>
<text x="191.50" y="183.10" font-size="9.80" font-style="italic" text-anchor="start">e</text>
<text x="200.70" y="176.50" font-size="13.50" text-anchor="start">=</text>
<text x="212.10" y="176.50" font-size="13.50" text-anchor="start">1/7</text>
<text x="62.70" y="238.70" font-size="13.50" text-anchor="start">ω</text>
<text x="71.70" y="245.50" font-size="10.00" font-style="italic" text-anchor="start">pe</text>
<text x="85.00" y="238.70" font-size="13.50" font-style="italic" text-anchor="start">t</text>
<text x="92.30" y="238.70" font-size="13.50" text-anchor="start">=</text>
<text x="102.70" y="238.70" font-size="13.50" text-anchor="start">2</text>
<text x="108.80" y="241.20" font-size="18.00" text-anchor="start">×</text>
<text x="117.20" y="238.70" font-size="13.50" text-anchor="start">10</text>
<text x="130.40" y="233.30" font-size="10.20" text-anchor="start">4</text>
<text x="154.00" y="297.50" font-size="13.50" font-style="italic" text-anchor="start">t</text>
<text x="160.60" y="297.50" font-size="13.50" text-anchor="start">=</text>
<text x="172.00" y="297.50" font-size="13.50" text-anchor="start">0</text>
<g clip-path="url(#c4)" fill="none" stroke-linejoin="round" stroke-linecap="butt">
<path d="M438.18 356.31 L438.54 356.31 L438.91 356.31 L439.28 356.31 L439.64 356.31 L440.01 356.31 L440.38 356.31 L440.74 356.31 L441.11 356.31 L441.48 356.31 L441.84 356.31 L442.21 356.31 L442.58 355.21 L442.94 352.28 L443.31 349.37 L443.68 346.49 L444.04 343.64 L444.41 340.81 L444.78 338.02 L445.15 335.25 L445.51 332.50 L445.88 329.79 L446.25 327.10 L446.61 324.44 L446.98 321.80 L447.35 319.20 L447.71 316.62 L448.08 314.07 L448.45 311.54 L448.81 309.04 L449.18 306.57 L449.55 304.13 L449.91 301.71 L450.28 299.33 L450.65 296.96 L451.02 294.63 L451.38 292.32 L451.75 290.05 L452.12 287.79 L452.48 285.57 L452.85 283.37 L453.22 281.20 L453.58 279.06 L453.95 276.94 L454.32 274.86 L454.68 272.79 L455.05 270.76 L455.42 268.76 L455.78 266.78 L456.15 264.82 L456.52 262.90 L456.89 261.00 L457.25 259.13 L457.62 257.29 L457.99 255.48 L458.35 253.69 L458.72 251.93 L459.09 250.19 L459.45 248.49 L459.82 246.81 L460.19 245.16 L460.55 243.53 L460.92 241.94 L461.29 240.37 L461.65 238.83 L462.02 237.31 L462.39 235.82 L462.76 234.36 L463.12 232.93 L463.49 231.52 L463.86 230.15 L464.22 228.79 L464.59 227.47 L464.96 226.17 L465.32 224.90 L465.69 223.66 L466.06 222.45 L466.42 221.26 L466.79 220.10 L467.16 218.97 L467.52 217.86 L467.89 216.78 L468.26 215.73 L468.63 214.71 L468.99 213.71 L469.36 212.74 L469.73 211.80 L470.09 210.89 L470.46 210.00 L470.83 209.14 L471.19 208.31 L471.56 207.50 L471.93 206.73 L472.29 205.98 L472.66 205.25 L473.03 204.56 L473.39 203.89 L473.76 203.25 L474.13 202.63 L474.50 202.05 L474.86 201.49 L475.23 200.95 L475.60 200.45 L475.96 199.97 L476.33 199.52 L476.70 199.10 L477.06 198.70 L477.43 198.33 L477.80 197.99 L478.16 197.68 L478.53 197.39 L478.90 197.13 L479.26 196.90 L479.63 196.70 L480.00 196.52 L480.37 196.37 L480.73 196.24 L481.10 196.15 L481.47 196.08 L481.83 196.04 L482.20 196.03 L482.57 196.04 L482.93 196.08 L483.30 196.15 L483.67 196.24 L484.03 196.37 L484.40 196.52 L484.77 196.70 L485.13 196.90 L485.50 197.13 L485.87 197.39 L486.24 197.68 L486.60 197.99 L486.97 198.33 L487.34 198.70 L487.70 199.10 L488.07 199.52 L488.44 199.97 L488.80 200.45 L489.17 200.95 L489.54 201.49 L489.90 202.05 L490.27 202.63 L490.64 203.25 L491.00 203.89 L491.37 204.56 L491.74 205.25 L492.11 205.98 L492.47 206.73 L492.84 207.50 L493.21 208.31 L493.57 209.14 L493.94 210.00 L494.31 210.89 L494.67 211.80 L495.04 212.74 L495.41 213.70 L495.77 214.70 L496.14 215.71 L496.51 216.75 L496.87 217.81 L497.24 218.90 L497.61 219.99 L497.98 221.10 L498.34 222.21 L498.71 223.31 L499.08 224.38 L499.44 225.40 L499.81 226.35 L500.18 227.19 L500.54 227.89 L500.91 228.42 L501.28 228.76 L501.64 228.91 L502.01 228.88 L502.38 228.69 L502.74 228.39 L503.11 228.00 L503.48 227.56 L503.85 227.09 L504.21 226.60 L504.58 226.12 L504.95 225.64 L505.31 225.17 L505.68 224.73 L506.05 224.30 L506.41 223.90 L506.78 223.53 L507.15 223.18 L507.51 222.86 L507.88 222.57 L508.25 222.30 L508.61 222.06 L508.98 221.85 L509.35 221.67 L509.72 221.52 L510.08 221.39 L510.45 221.29 L510.82 221.22 L511.18 221.18 L511.55 221.17 L511.92 221.18 L512.28 221.22 L512.65 221.29 L513.02 221.39 L513.38 221.52 L513.75 221.67 L514.12 221.85 L514.48 222.06 L514.85 222.30 L515.22 222.56 L515.59 222.85 L515.95 223.17 L516.32 223.51 L516.69 223.88 L517.05 224.28 L517.42 224.71 L517.79 225.16 L518.15 225.64 L518.52 226.15 L518.89 226.68 L519.25 227.24 L519.62 227.82 L519.99 228.44 L520.35 229.07 L520.72 229.74 L521.09 230.43 L521.46 231.15 L521.82 231.89 L522.19 232.66 L522.56 233.45 L522.92 234.27 L523.29 235.11 L523.66 235.98 L524.02 236.88 L524.39 237.80 L524.76 238.75 L525.12 239.72 L525.49 240.72 L525.86 241.74 L526.22 242.78 L526.59 243.86 L526.96 244.95 L527.33 246.07 L527.69 247.22 L528.06 248.39 L528.43 249.58 L528.79 250.80 L529.16 252.04 L529.53 253.31 L529.89 254.60 L530.26 255.92 L530.63 257.26 L530.99 258.62 L531.36 260.01 L531.73 261.42 L532.09 262.85 L532.46 264.31 L532.83 265.79 L533.20 267.30 L533.56 268.82 L533.93 270.38 L534.30 271.95 L534.66 273.55 L535.03 275.17 L535.40 276.81 L535.76 278.48 L536.13 280.16 L536.50 281.88 L536.86 283.61 L537.23 285.37 L537.60 287.14 L537.96 288.94 L538.33 290.77 L538.70 292.61 L539.07 294.48 L539.43 296.37 L539.80 298.28 L540.17 300.21 L540.53 302.17 L540.90 304.14 L541.27 306.14 L541.63 308.16 L542.00 310.20 L542.37 312.26 L542.73 314.35 L543.10 316.45 L543.47 318.58 L543.83 320.72 L544.20 322.89 L544.57 325.08 L544.94 327.29 L545.30 329.52 L545.67 331.77 L546.04 334.04 L546.40 336.33 L546.77 338.64 L547.14 340.97 L547.50 343.33 L547.87 345.70 L548.24 348.09" stroke="#0000ee" stroke-width="3.80"/>
<path d="M434.20 322.00 L434.50 318.50 L435.80 306.00 L437.50 291.00 L440.00 274.30 L442.00 261.00 L444.20 256.40 L446.00 255.70 L457.50 255.00" stroke="#c81a1a" stroke-width="1.00"/>
<path d="M406.20 322.00 L406.70 318.50 L409.20 306.00 L410.80 292.70 L413.30 285.20 L417.50 282.30 L421.70 281.00 L424.20 276.80 L428.30 272.70 L431.70 268.50 L434.20 262.70 L435.80 259.30" stroke="#c81a1a" stroke-width="1.00"/>
<path d="M399.90 322.00 L400.30 318.50 L402.50 302.70 L405.00 284.30 L406.70 274.30 L410.00 271.80 L418.30 269.30 L426.70 267.30 L430.00 264.30 L434.20 259.30 L438.30 256.80" stroke="#c81a1a" stroke-width="1.00"/>
<path d="M531.75 256.79 L532.12 258.14 L532.48 259.52 L532.85 260.93 L533.22 262.35 L533.58 263.80 L533.95 265.27 L534.32 266.77 L534.69 268.29 L535.05 269.83 L535.42 271.40 L535.79 272.99 L536.15 274.60 L536.52 276.24 L536.89 277.89 L537.25 279.57 L537.62 281.28 L537.99 283.00 L538.35 284.75 L538.72 286.52 L539.09 288.32 L539.45 290.13 L539.82 291.97 L540.19 293.83 L540.56 295.71 L540.92 297.61 L541.29 299.54 L541.66 301.49 L542.02 303.46 L542.39 305.45 L542.76 307.46 L543.12 309.49 L543.49 311.55 L543.86 313.62 L544.22 315.72 L544.59 317.84 L544.96 319.98 L545.32 322.14 L545.69 324.32 L546.06 326.52" stroke="#e01030" stroke-width="1.5" stroke-opacity="0.6"/>
<path d="M531.50 257.00 L533.30 265.70 L540.00 266.30 L542.50 274.30 L545.80 287.70 L549.20 299.30 L553.30 307.70 L556.70 314.30 L558.70 318.50 L559.50 322.00" stroke="#c81a1a" stroke-width="1.00"/>
<path d="M531.50 254.30 L534.20 261.00 L539.20 261.80 L542.50 269.30 L545.00 281.00 L547.50 290.20 L558.30 290.70 L560.80 299.30 L568.30 303.50 L578.30 306.00 L587.50 307.70 L588.80 318.50 L589.00 322.00" stroke="#c81a1a" stroke-width="1.00"/>
<path d="M381.50 319.80 L381.92 319.56 L383.57 318.64 L384.46 318.21 L386.24 317.49 L387.55 316.52 L390.85 313.48 L392.40 311.56 L395.10 307.14 L396.38 304.59 L398.62 299.11 L399.47 296.00 L400.53 289.40 L401.09 286.03 L402.21 279.57 L402.93 276.69 L404.57 272.01 L405.85 270.34 L409.15 268.56 L411.41 267.79 L416.89 266.61 L419.86 265.94 L425.94 264.56 L428.35 263.37 L431.65 260.13 L433.49 258.60 L437.31 255.90 L438.89 254.91 L441.21 253.79 L442.07 252.84 L443.13 250.26 L443.77 249.12 L445.23 247.28 L448.34 246.80 L458.96 246.80 L461.84 245.01 L462.39 238.06 L463.01 234.75 L464.85 228.86 L465.89 225.89 L468.06 220.25 L469.24 217.38 L471.61 211.91 L473.16 208.98 L476.79 203.09 L478.24 200.83 L480.22 197.92 L481.03 196.87 L482.19 195.71 L482.82 195.88 L484.08 197.71 L484.94 199.06 L487.02 202.46 L488.11 204.29 L490.24 208.03 L491.32 209.93 L493.40 213.58 L494.55 215.55 L496.92 219.53 L497.98 221.05 L499.73 222.95 L500.74 223.53 L502.92 223.86 L503.98 223.76 L505.91 223.01 L506.91 222.60 L508.85 221.77 L509.60 221.50 L510.57 221.28 L510.94 221.21 L511.43 221.18 L511.67 221.18 L512.16 221.21 L512.41 221.25 L512.89 221.36 L513.14 221.44 L513.63 221.62 L513.88 221.74 L514.36 221.99 L514.61 222.14 L515.09 222.47 L515.34 222.66 L515.83 223.06 L516.08 223.29 L516.56 223.76 L516.81 224.02 L517.30 224.57 L517.79 225.01 L519.23 226.20 L520.38 228.12 L523.42 234.38 L524.90 237.28 L527.60 242.22 L528.88 244.91 L531.12 250.39 L532.55 251.95 L535.85 252.55 L537.40 253.97 L540.10 258.92 L541.38 261.75 L543.62 267.75 L544.62 270.57 L546.28 275.52 L547.55 277.51 L550.85 280.29 L552.82 281.56 L557.18 283.74 L559.30 285.10 L563.20 288.20 L565.48 289.48 L570.43 291.32 L572.82 292.51 L577.18 295.29 L579.44 296.51 L583.86 298.49 L585.56 299.48 L587.74 301.32 L588.64 303.07 L589.96 308.02 L590.54 310.86 L591.46 316.94 L591.75 319.09 L591.95 321.40 L592.00 322.00" stroke="#0000ee" stroke-width="3.80"/>
<path d="M469.97 210.20 L475.47 201.27 L478.48 196.87" stroke="#e01040" stroke-width="1.4" stroke-opacity="0.85"/>
<path d="M486.65 197.88 L489.81 203.03 L493.03 208.69 L496.19 214.22" stroke="#e01040" stroke-width="1.4" stroke-opacity="0.85"/>
</g>
<rect x="364.60" y="192.90" width="234.80" height="125.70" fill="none" stroke="#5c5c5c" stroke-width="1"/>
<path d="M408.62 318.60 v-2.4 M408.62 192.90 v2.4 M482.00 318.60 v-2.4 M482.00 192.90 v2.4 M555.38 318.60 v-2.4 M555.38 192.90 v2.4 M364.60 255.75 h2.4 M599.40 255.75 h-2.4" stroke="#5c5c5c" stroke-width="1" fill="none"/>
<text x="394.62" y="333.60" font-size="13.50" text-anchor="start">−10</text>
<text x="482.00" y="333.60" font-size="13.50" text-anchor="middle">0</text>
<text x="555.88" y="333.60" font-size="13.50" text-anchor="middle">10</text>
<text x="335.10" y="197.90" font-size="13.50" text-anchor="start">10</text>
<text x="347.60" y="189.90" font-size="9.60" text-anchor="start">0</text>
<text x="335.10" y="260.75" font-size="13.50" text-anchor="start">10</text>
<text x="347.60" y="252.75" font-size="9.60" text-anchor="start">−5</text>
<text x="335.10" y="323.60" font-size="13.50" text-anchor="start">10</text>
<text x="347.60" y="315.60" font-size="9.60" text-anchor="start">−10</text>
<g transform="translate(320.40 255.75) rotate(-90)">
<text transform="translate(-13.6 0) scale(1.45 1)" x="0" y="0" font-size="13.50" font-style="italic">f</text>
<text x="-7.2" y="7.4" font-size="9.80" font-style="italic">e</text>
<text x="-3.8" y="0" font-size="13.50">(</text>
<text x="4.5" y="0" font-size="13.50" font-style="italic">v</text>
<text x="10.5" y="0" font-size="13.50">)</text>
</g>
<text x="429.50" y="176.50" font-size="13.00" font-weight="bold" text-anchor="start">Case 4:</text>
<text x="477.90" y="176.50" font-size="13.50" font-style="italic" text-anchor="start">T</text>
<text x="484.50" y="182.70" font-size="9.80" font-style="italic" text-anchor="start">i</text>
<text x="488.10" y="176.50" font-size="13.50" font-style="italic" text-anchor="start">/</text>
<text x="495.50" y="176.50" font-size="13.50" font-style="italic" text-anchor="start">T</text>
<text x="501.50" y="183.10" font-size="9.80" font-style="italic" text-anchor="start">e</text>
<text x="510.70" y="176.50" font-size="13.50" text-anchor="start">=</text>
<text x="522.10" y="176.50" font-size="13.50" text-anchor="start">1/4</text>
<text x="372.20" y="238.70" font-size="13.50" text-anchor="start">ω</text>
<text x="381.20" y="245.50" font-size="10.00" font-style="italic" text-anchor="start">pe</text>
<text x="394.50" y="238.70" font-size="13.50" font-style="italic" text-anchor="start">t</text>
<text x="401.80" y="238.70" font-size="13.50" text-anchor="start">=</text>
<text x="412.20" y="238.70" font-size="13.50" text-anchor="start">2</text>
<text x="418.30" y="241.20" font-size="18.00" text-anchor="start">×</text>
<text x="426.70" y="238.70" font-size="13.50" text-anchor="start">10</text>
<text x="439.90" y="233.30" font-size="10.20" text-anchor="start">4</text>
<text x="463.60" y="297.50" font-size="13.50" font-style="italic" text-anchor="start">t</text>
<text x="470.20" y="297.50" font-size="13.50" text-anchor="start">=</text>
<text x="481.60" y="297.50" font-size="13.50" text-anchor="start">0</text>
<g clip-path="url(#c5)" fill="none" stroke-linejoin="round" stroke-linecap="butt">
<path d="M128.16 531.97 L128.53 531.97 L128.90 531.97 L129.27 531.97 L129.63 531.97 L130.00 531.97 L130.37 531.97 L130.74 531.97 L131.10 531.97 L131.47 531.97 L131.84 531.97 L132.21 531.97 L132.58 530.87 L132.94 527.93 L133.31 525.02 L133.68 522.14 L134.05 519.28 L134.42 516.45 L134.78 513.65 L135.15 510.87 L135.52 508.13 L135.89 505.41 L136.25 502.71 L136.62 500.05 L136.99 497.41 L137.36 494.80 L137.73 492.21 L138.09 489.66 L138.46 487.13 L138.83 484.63 L139.20 482.15 L139.56 479.71 L139.93 477.29 L140.30 474.90 L140.67 472.53 L141.04 470.19 L141.40 467.88 L141.77 465.60 L142.14 463.34 L142.51 461.12 L142.87 458.92 L143.24 456.74 L143.61 454.60 L143.98 452.48 L144.35 450.39 L144.71 448.32 L145.08 446.29 L145.45 444.28 L145.82 442.29 L146.19 440.34 L146.55 438.41 L146.92 436.51 L147.29 434.64 L147.66 432.79 L148.02 430.98 L148.39 429.18 L148.76 427.42 L149.13 425.69 L149.50 423.98 L149.86 422.30 L150.23 420.64 L150.60 419.01 L150.97 417.42 L151.33 415.84 L151.70 414.30 L152.07 412.78 L152.44 411.29 L152.81 409.83 L153.17 408.39 L153.54 406.99 L153.91 405.60 L154.28 404.25 L154.64 402.93 L155.01 401.63 L155.38 400.36 L155.75 399.11 L156.12 397.90 L156.48 396.71 L156.85 395.54 L157.22 394.41 L157.59 393.30 L157.96 392.22 L158.32 391.17 L158.69 390.14 L159.06 389.15 L159.43 388.18 L159.79 387.23 L160.16 386.32 L160.53 385.43 L160.90 384.57 L161.27 383.73 L161.63 382.93 L162.00 382.15 L162.37 381.40 L162.74 380.67 L163.10 379.97 L163.47 379.30 L163.84 378.66 L164.21 378.05 L164.58 377.46 L164.94 376.90 L165.31 376.37 L165.68 375.86 L166.05 375.38 L166.41 374.93 L166.78 374.51 L167.15 374.11 L167.52 373.74 L167.89 373.40 L168.25 373.09 L168.62 372.80 L168.99 372.54 L169.36 372.31 L169.73 372.10 L170.09 371.92 L170.46 371.77 L170.83 371.65 L171.20 371.55 L171.56 371.49 L171.93 371.45 L172.30 371.43 L172.67 371.45 L173.04 371.49 L173.40 371.55 L173.77 371.65 L174.14 371.77 L174.51 371.92 L174.87 372.10 L175.24 372.31 L175.61 372.54 L175.98 372.80 L176.35 373.09 L176.71 373.40 L177.08 373.74 L177.45 374.11 L177.82 374.51 L178.18 374.93 L178.55 375.38 L178.92 375.86 L179.29 376.37 L179.66 376.90 L180.02 377.46 L180.39 378.05 L180.76 378.66 L181.13 379.30 L181.50 379.97 L181.86 380.67 L182.23 381.40 L182.60 382.15 L182.97 382.93 L183.33 383.73 L183.70 384.57 L184.07 385.43 L184.44 386.31 L184.81 387.23 L185.17 388.17 L185.54 389.14 L185.91 390.13 L186.28 391.15 L186.64 392.19 L187.01 393.25 L187.38 394.34 L187.75 395.44 L188.12 396.54 L188.48 397.66 L188.85 398.76 L189.22 399.83 L189.59 400.86 L189.95 401.81 L190.32 402.65 L190.69 403.35 L191.06 403.88 L191.43 404.22 L191.79 404.37 L192.16 404.33 L192.53 404.15 L192.90 403.85 L193.27 403.46 L193.63 403.02 L194.00 402.54 L194.37 402.06 L194.74 401.57 L195.10 401.09 L195.47 400.62 L195.84 400.18 L196.21 399.75 L196.58 399.35 L196.94 398.98 L197.31 398.63 L197.68 398.31 L198.05 398.02 L198.41 397.75 L198.78 397.51 L199.15 397.30 L199.52 397.12 L199.89 396.96 L200.25 396.84 L200.62 396.74 L200.99 396.67 L201.36 396.63 L201.72 396.61 L202.09 396.63 L202.46 396.67 L202.83 396.74 L203.20 396.84 L203.56 396.96 L203.93 397.12 L204.30 397.30 L204.67 397.51 L205.04 397.74 L205.40 398.01 L205.77 398.30 L206.14 398.62 L206.51 398.96 L206.87 399.33 L207.24 399.73 L207.61 400.16 L207.98 400.61 L208.35 401.09 L208.71 401.60 L209.08 402.13 L209.45 402.69 L209.82 403.28 L210.18 403.89 L210.55 404.53 L210.92 405.20 L211.29 405.89 L211.66 406.61 L212.02 407.35 L212.39 408.12 L212.76 408.91 L213.13 409.73 L213.49 410.58 L213.86 411.45 L214.23 412.35 L214.60 413.27 L214.97 414.22 L215.33 415.19 L215.70 416.19 L216.07 417.22 L216.44 418.26 L216.81 419.34 L217.17 420.43 L217.54 421.56 L217.91 422.70 L218.28 423.88 L218.64 425.07 L219.01 426.29 L219.38 427.54 L219.75 428.81 L220.12 430.10 L220.48 431.42 L220.85 432.76 L221.22 434.13 L221.59 435.51 L221.95 436.93 L222.32 438.36 L222.69 439.82 L223.06 441.31 L223.43 442.81 L223.79 444.35 L224.16 445.90 L224.53 447.48 L224.90 449.07 L225.26 450.70 L225.63 452.34 L226.00 454.01 L226.37 455.70 L226.74 457.42 L227.10 459.15 L227.47 460.91 L227.84 462.69 L228.21 464.50 L228.58 466.32 L228.94 468.17 L229.31 470.04 L229.68 471.93 L230.05 473.85 L230.41 475.78 L230.78 477.74 L231.15 479.72 L231.52 481.72 L231.89 483.75 L232.25 485.79 L232.62 487.85 L232.99 489.94 L233.36 492.05 L233.72 494.18 L234.09 496.33 L234.46 498.50 L234.83 500.69 L235.20 502.90 L235.56 505.14 L235.93 507.39 L236.30 509.66 L236.67 511.96 L237.03 514.27 L237.40 516.61 L237.77 518.97 L238.14 521.34 L238.51 523.74" stroke="#0000ee" stroke-width="3.80"/>
<path d="M122.50 498.00 L122.80 494.20 L124.20 482.00 L125.80 468.70 L128.30 453.70 L130.80 439.50 L132.50 432.30 L134.20 429.20 L136.00 428.80 L146.70 428.70" stroke="#c81a1a" stroke-width="1.00"/>
<path d="M97.70 498.00 L98.30 494.20 L100.00 485.30 L102.50 475.30 L105.80 465.30 L110.00 456.20 L115.00 447.80 L120.00 441.20 L123.30 438.70 L128.30 437.00 L131.70 435.30" stroke="#c81a1a" stroke-width="1.00"/>
<path d="M73.00 498.00 L74.20 494.20 L77.50 483.70 L82.50 473.70 L87.50 467.00 L93.30 462.80 L97.50 458.70 L100.00 453.70 L103.30 447.80 L110.00 443.70 L118.30 439.50 L126.70 436.70 L131.70 434.50" stroke="#c81a1a" stroke-width="1.00"/>
<path d="M223.25 437.10 L223.62 438.54 L223.99 440.01 L224.35 441.49 L224.72 443.00 L225.09 444.54 L225.46 446.09 L225.82 447.67 L226.19 449.27 L226.56 450.90 L226.93 452.55 L227.30 454.22 L227.66 455.91 L228.03 457.63 L228.40 459.37 L228.77 461.13 L229.13 462.91 L229.50 464.72 L229.87 466.55 L230.24 468.40 L230.61 470.27 L230.97 472.17 L231.34 474.09 L231.71 476.02 L232.08 477.98 L232.45 479.97 L232.81 481.97 L233.18 484.00 L233.55 486.04 L233.92 488.11 L234.28 490.20 L234.65 492.31 L235.02 494.44 L235.39 496.59 L235.76 498.77 L236.12 500.96 L236.49 503.18" stroke="#e01030" stroke-width="1.5" stroke-opacity="0.6"/>
<path d="M223.50 441.00 L225.80 452.00 L234.20 453.30 L235.80 460.30 L237.50 472.00 L239.20 483.70 L241.30 494.20 L242.00 498.00" stroke="#c81a1a" stroke-width="1.00"/>
<path d="M223.00 438.00 L225.00 445.30 L226.70 449.50 L234.20 450.70 L236.70 457.00 L238.70 468.70 L240.80 480.30 L243.30 488.70 L245.00 494.20 L246.00 498.00" stroke="#c81a1a" stroke-width="1.00"/>
<path d="M51.00 494.00 L51.82 494.00 L54.98 494.00 L55.95 492.81 L56.55 488.19 L57.12 486.08 L58.78 482.52 L60.19 480.43 L64.01 475.87 L66.14 473.44 L70.56 468.56 L72.82 466.30 L77.18 462.40 L79.44 460.69 L83.86 457.91 L86.14 456.74 L90.56 454.96 L92.82 454.21 L97.18 453.09 L98.64 451.95 L99.96 448.65 L100.59 446.68 L101.71 442.32 L102.80 440.91 L105.90 439.79 L108.40 438.94 L115.00 436.76 L118.11 435.77 L123.59 434.12 L125.99 433.46 L129.81 432.54 L131.09 431.11 L132.21 426.49 L132.79 424.55 L133.91 421.65 L137.28 420.81 L149.22 420.48 L152.35 418.93 L152.54 413.21 L153.06 410.22 L154.91 404.32 L155.94 401.34 L158.13 395.69 L159.30 392.82 L161.68 387.34 L163.23 384.41 L166.87 378.51 L168.33 376.24 L170.32 373.33 L171.13 372.28 L172.29 371.12 L172.92 371.29 L174.18 373.12 L175.04 374.47 L177.13 377.87 L178.22 379.71 L180.36 383.45 L181.44 385.36 L183.53 389.01 L184.68 390.98 L187.06 394.97 L188.12 396.49 L189.87 398.40 L190.89 398.98 L193.07 399.31 L194.13 399.20 L196.08 398.46 L197.08 398.05 L199.02 397.22 L199.77 396.95 L200.74 396.72 L201.11 396.66 L201.60 396.62 L201.85 396.62 L202.34 396.66 L202.59 396.70 L203.07 396.81 L203.32 396.88 L203.81 397.07 L204.06 397.18 L204.54 397.44 L204.79 397.59 L205.28 397.92 L205.53 398.11 L206.01 398.51 L206.26 398.74 L206.75 399.21 L207.00 399.47 L207.48 400.02 L208.05 400.39 L209.76 401.27 L211.20 403.29 L215.10 410.21 L216.85 413.99 L219.75 421.71 L220.96 425.67 L222.74 433.33 L223.68 436.27 L225.52 440.03 L226.82 441.39 L229.98 442.91 L231.65 443.42 L234.95 443.88 L236.29 444.65 L238.21 447.15 L239.06 448.80 L240.44 452.70 L241.51 454.40 L244.29 457.10 L246.14 458.51 L250.56 461.29 L252.69 462.99 L256.51 466.81 L258.21 468.94 L260.99 473.36 L262.26 475.64 L264.44 480.06 L265.43 482.32 L267.07 486.68 L267.72 488.89 L268.58 493.11 L268.88 494.85 L269.22 497.35 L269.30 498.00" stroke="#0000ee" stroke-width="3.80"/>
<path d="M160.05 385.63 L165.56 376.69 L168.58 372.28" stroke="#e01040" stroke-width="1.4" stroke-opacity="0.85"/>
<path d="M176.76 373.29 L179.92 378.45 L183.16 384.12 L186.32 389.65" stroke="#e01040" stroke-width="1.4" stroke-opacity="0.85"/>
</g>
<rect x="55.00" y="368.30" width="235.40" height="125.90" fill="none" stroke="#5c5c5c" stroke-width="1"/>
<path d="M99.14 494.20 v-2.4 M99.14 368.30 v2.4 M172.70 494.20 v-2.4 M172.70 368.30 v2.4 M246.26 494.20 v-2.4 M246.26 368.30 v2.4 M55.00 431.25 h2.4 M290.40 431.25 h-2.4" stroke="#5c5c5c" stroke-width="1" fill="none"/>
<text x="85.14" y="509.20" font-size="13.50" text-anchor="start">−10</text>
<text x="172.70" y="509.20" font-size="13.50" text-anchor="middle">0</text>
<text x="246.76" y="509.20" font-size="13.50" text-anchor="middle">10</text>
<text x="25.50" y="373.30" font-size="13.50" text-anchor="start">10</text>
<text x="38.00" y="365.30" font-size="9.60" text-anchor="start">0</text>
<text x="25.50" y="436.25" font-size="13.50" text-anchor="start">10</text>
<text x="38.00" y="428.25" font-size="9.60" text-anchor="start">−5</text>
<text x="25.50" y="499.20" font-size="13.50" text-anchor="start">10</text>
<text x="38.00" y="491.20" font-size="9.60" text-anchor="start">−10</text>
<g transform="translate(10.80 431.25) rotate(-90)">
<text transform="translate(-13.6 0) scale(1.45 1)" x="0" y="0" font-size="13.50" font-style="italic">f</text>
<text x="-7.2" y="7.4" font-size="9.80" font-style="italic">e</text>
<text x="-3.8" y="0" font-size="13.50">(</text>
<text x="4.5" y="0" font-size="13.50" font-style="italic">v</text>
<text x="10.5" y="0" font-size="13.50">)</text>
</g>
<text x="119.50" y="351.90" font-size="13.00" font-weight="bold" text-anchor="start">Case 5:</text>
<text x="167.90" y="351.90" font-size="13.50" font-style="italic" text-anchor="start">T</text>
<text x="174.50" y="358.10" font-size="9.80" font-style="italic" text-anchor="start">i</text>
<text x="178.10" y="351.90" font-size="13.50" font-style="italic" text-anchor="start">/</text>
<text x="185.50" y="351.90" font-size="13.50" font-style="italic" text-anchor="start">T</text>
<text x="191.50" y="358.50" font-size="9.80" font-style="italic" text-anchor="start">e</text>
<text x="200.70" y="351.90" font-size="13.50" text-anchor="start">=</text>
<text x="212.10" y="351.90" font-size="13.50" text-anchor="start">1/2</text>
<text x="62.70" y="413.70" font-size="13.50" text-anchor="start">ω</text>
<text x="71.70" y="420.50" font-size="10.00" font-style="italic" text-anchor="start">pe</text>
<text x="85.00" y="413.70" font-size="13.50" font-style="italic" text-anchor="start">t</text>
<text x="92.30" y="413.70" font-size="13.50" text-anchor="start">=</text>
<text x="102.70" y="413.70" font-size="13.50" text-anchor="start">2</text>
<text x="108.80" y="416.20" font-size="18.00" text-anchor="start">×</text>
<text x="117.20" y="413.70" font-size="13.50" text-anchor="start">10</text>
<text x="130.40" y="408.30" font-size="10.20" text-anchor="start">4</text>
<text x="154.00" y="472.50" font-size="13.50" font-style="italic" text-anchor="start">t</text>
<text x="160.60" y="472.50" font-size="13.50" text-anchor="start">=</text>
<text x="172.00" y="472.50" font-size="13.50" text-anchor="start">0</text>
<g clip-path="url(#c6)" fill="none" stroke-linejoin="round" stroke-linecap="butt">
<path d="M438.18 531.97 L438.54 531.97 L438.91 531.97 L439.28 531.97 L439.64 531.97 L440.01 531.97 L440.38 531.97 L440.74 531.97 L441.11 531.97 L441.48 531.97 L441.84 531.97 L442.21 531.97 L442.58 530.87 L442.94 527.93 L443.31 525.02 L443.68 522.14 L444.04 519.28 L444.41 516.45 L444.78 513.65 L445.15 510.87 L445.51 508.13 L445.88 505.41 L446.25 502.71 L446.61 500.05 L446.98 497.41 L447.35 494.80 L447.71 492.21 L448.08 489.66 L448.45 487.13 L448.81 484.63 L449.18 482.15 L449.55 479.71 L449.91 477.29 L450.28 474.90 L450.65 472.53 L451.02 470.19 L451.38 467.88 L451.75 465.60 L452.12 463.34 L452.48 461.12 L452.85 458.92 L453.22 456.74 L453.58 454.60 L453.95 452.48 L454.32 450.39 L454.68 448.32 L455.05 446.29 L455.42 444.28 L455.78 442.29 L456.15 440.34 L456.52 438.41 L456.89 436.51 L457.25 434.64 L457.62 432.79 L457.99 430.98 L458.35 429.18 L458.72 427.42 L459.09 425.69 L459.45 423.98 L459.82 422.30 L460.19 420.64 L460.55 419.01 L460.92 417.42 L461.29 415.84 L461.65 414.30 L462.02 412.78 L462.39 411.29 L462.76 409.83 L463.12 408.39 L463.49 406.99 L463.86 405.60 L464.22 404.25 L464.59 402.93 L464.96 401.63 L465.32 400.36 L465.69 399.11 L466.06 397.90 L466.42 396.71 L466.79 395.54 L467.16 394.41 L467.52 393.30 L467.89 392.22 L468.26 391.17 L468.63 390.14 L468.99 389.15 L469.36 388.18 L469.73 387.23 L470.09 386.32 L470.46 385.43 L470.83 384.57 L471.19 383.73 L471.56 382.93 L471.93 382.15 L472.29 381.40 L472.66 380.67 L473.03 379.97 L473.39 379.30 L473.76 378.66 L474.13 378.05 L474.50 377.46 L474.86 376.90 L475.23 376.37 L475.60 375.86 L475.96 375.38 L476.33 374.93 L476.70 374.51 L477.06 374.11 L477.43 373.74 L477.80 373.40 L478.16 373.09 L478.53 372.80 L478.90 372.54 L479.26 372.31 L479.63 372.10 L480.00 371.92 L480.37 371.77 L480.73 371.65 L481.10 371.55 L481.47 371.49 L481.83 371.45 L482.20 371.43 L482.57 371.45 L482.93 371.49 L483.30 371.55 L483.67 371.65 L484.03 371.77 L484.40 371.92 L484.77 372.10 L485.13 372.31 L485.50 372.54 L485.87 372.80 L486.24 373.09 L486.60 373.40 L486.97 373.74 L487.34 374.11 L487.70 374.51 L488.07 374.93 L488.44 375.38 L488.80 375.86 L489.17 376.37 L489.54 376.90 L489.90 377.46 L490.27 378.05 L490.64 378.66 L491.00 379.30 L491.37 379.97 L491.74 380.67 L492.11 381.40 L492.47 382.15 L492.84 382.93 L493.21 383.73 L493.57 384.57 L493.94 385.43 L494.31 386.31 L494.67 387.23 L495.04 388.17 L495.41 389.14 L495.77 390.13 L496.14 391.15 L496.51 392.19 L496.87 393.25 L497.24 394.34 L497.61 395.44 L497.98 396.54 L498.34 397.66 L498.71 398.76 L499.08 399.83 L499.44 400.86 L499.81 401.81 L500.18 402.65 L500.54 403.35 L500.91 403.88 L501.28 404.22 L501.64 404.37 L502.01 404.33 L502.38 404.15 L502.74 403.85 L503.11 403.46 L503.48 403.02 L503.85 402.54 L504.21 402.06 L504.58 401.57 L504.95 401.09 L505.31 400.62 L505.68 400.18 L506.05 399.75 L506.41 399.35 L506.78 398.98 L507.15 398.63 L507.51 398.31 L507.88 398.02 L508.25 397.75 L508.61 397.51 L508.98 397.30 L509.35 397.12 L509.72 396.96 L510.08 396.84 L510.45 396.74 L510.82 396.67 L511.18 396.63 L511.55 396.61 L511.92 396.63 L512.28 396.67 L512.65 396.74 L513.02 396.84 L513.38 396.96 L513.75 397.12 L514.12 397.30 L514.48 397.51 L514.85 397.74 L515.22 398.01 L515.59 398.30 L515.95 398.62 L516.32 398.96 L516.69 399.33 L517.05 399.73 L517.42 400.16 L517.79 400.61 L518.15 401.09 L518.52 401.60 L518.89 402.13 L519.25 402.69 L519.62 403.28 L519.99 403.89 L520.35 404.53 L520.72 405.20 L521.09 405.89 L521.46 406.61 L521.82 407.35 L522.19 408.12 L522.56 408.91 L522.92 409.73 L523.29 410.58 L523.66 411.45 L524.02 412.35 L524.39 413.27 L524.76 414.22 L525.12 415.19 L525.49 416.19 L525.86 417.22 L526.22 418.26 L526.59 419.34 L526.96 420.43 L527.33 421.56 L527.69 422.70 L528.06 423.88 L528.43 425.07 L528.79 426.29 L529.16 427.54 L529.53 428.81 L529.89 430.10 L530.26 431.42 L530.63 432.76 L530.99 434.13 L531.36 435.51 L531.73 436.93 L532.09 438.36 L532.46 439.82 L532.83 441.31 L533.20 442.81 L533.56 444.35 L533.93 445.90 L534.30 447.48 L534.66 449.07 L535.03 450.70 L535.40 452.34 L535.76 454.01 L536.13 455.70 L536.50 457.42 L536.86 459.15 L537.23 460.91 L537.60 462.69 L537.96 464.50 L538.33 466.32 L538.70 468.17 L539.07 470.04 L539.43 471.93 L539.80 473.85 L540.17 475.78 L540.53 477.74 L540.90 479.72 L541.27 481.72 L541.63 483.75 L542.00 485.79 L542.37 487.85 L542.73 489.94 L543.10 492.05 L543.47 494.18 L543.83 496.33 L544.20 498.50 L544.57 500.69 L544.94 502.90 L545.30 505.14 L545.67 507.39 L546.04 509.66 L546.40 511.96 L546.77 514.27 L547.14 516.61 L547.50 518.97 L547.87 521.34 L548.24 523.74" stroke="#0000ee" stroke-width="3.80"/>
<path d="M430.00 498.00 L430.30 494.20 L431.70 482.00 L434.20 465.30 L436.70 448.70 L438.70 435.30 L440.80 427.80 L442.50 427.00 L456.70 426.20" stroke="#c81a1a" stroke-width="1.00"/>
<path d="M402.40 498.00 L402.80 494.20 L404.20 483.70 L405.80 472.00 L408.30 465.70 L413.30 463.70 L418.30 460.70 L424.20 457.00 L428.30 451.20 L433.30 444.50 L437.00 438.70" stroke="#c81a1a" stroke-width="1.00"/>
<path d="M384.00 498.00 L384.70 494.20 L386.70 485.30 L390.00 477.80 L395.80 468.70 L401.70 460.30 L406.70 454.50 L413.30 451.20 L421.70 447.80 L428.30 444.00" stroke="#c81a1a" stroke-width="1.00"/>
<path d="M527.25 417.62 L527.62 418.68 L527.98 419.76 L528.35 420.87 L528.72 422.00 L529.08 423.16 L529.45 424.34 L529.82 425.54 L530.19 426.77 L530.55 428.03 L530.92 429.31 L531.29 430.61 L531.65 431.93 L532.02 433.29 L532.39 434.66 L532.75 436.06 L533.12 437.48 L533.49 438.93 L533.85 440.40 L534.22 441.89 L534.59 443.40 L534.95 444.94 L535.32 446.51 L535.69 448.09 L536.06 449.70 L536.42 451.33 L536.79 452.99 L537.16 454.66 L537.52 456.36 L537.89 458.09 L538.26 459.83 L538.62 461.60 L538.99 463.39 L539.36 465.20 L539.72 467.04 L540.09 468.89 L540.46 470.77 L540.82 472.67 L541.19 474.59 L541.56 476.54 L541.92 478.50 L542.29 480.49 L542.66 482.50 L543.03 484.53 L543.39 486.59 L543.76 488.66 L544.13 490.75 L544.49 492.87 L544.86 495.01 L545.23 497.16 L545.59 499.34 L545.96 501.54 L546.33 503.76" stroke="#e01030" stroke-width="1.5" stroke-opacity="0.6"/>
<path d="M526.00 412.00 L528.30 418.70 L532.50 422.00 L535.80 432.00 L541.70 445.30 L547.50 460.30 L551.70 473.70 L554.20 483.70 L555.50 494.20 L556.00 498.00" stroke="#c81a1a" stroke-width="1.00"/>
<path d="M536.00 424.00 L538.30 436.20 L543.30 445.30 L548.30 452.00 L552.50 454.50 L555.80 465.00 L558.30 475.30 L562.50 482.00 L568.30 488.70 L572.50 494.20 L575.00 498.00" stroke="#c81a1a" stroke-width="1.00"/>
<path d="M377.60 498.00 L377.63 497.35 L377.77 494.85 L377.94 492.69 L378.46 486.81 L378.89 483.60 L380.01 477.00 L380.71 474.06 L382.29 469.24 L383.35 467.15 L385.85 463.85 L387.66 462.27 L392.14 459.43 L394.44 457.99 L398.86 455.21 L401.14 453.85 L405.56 451.35 L408.11 450.12 L413.59 447.88 L416.41 446.82 L421.89 444.98 L424.15 444.07 L427.45 442.42 L429.49 441.23 L434.11 438.26 L435.79 436.51 L437.71 432.69 L438.62 430.66 L440.27 426.64 L441.23 425.06 L443.27 422.94 L446.84 422.33 L458.66 422.07 L461.84 420.26 L462.39 413.48 L463.01 410.22 L464.85 404.32 L465.89 401.34 L468.06 395.69 L469.24 392.82 L471.61 387.34 L473.16 384.41 L476.79 378.51 L478.24 376.24 L480.22 373.33 L481.03 372.28 L482.19 371.12 L482.82 371.29 L484.08 373.12 L484.94 374.47 L487.02 377.87 L488.11 379.71 L490.24 383.45 L491.32 385.36 L493.40 389.01 L494.55 390.98 L496.92 394.97 L497.98 396.49 L499.73 398.40 L500.74 398.98 L502.92 399.31 L503.98 399.20 L505.91 398.46 L506.91 398.05 L508.85 397.22 L509.60 396.95 L510.57 396.72 L510.94 396.66 L511.43 396.62 L511.67 396.62 L512.16 396.66 L512.41 396.70 L512.89 396.81 L513.14 396.88 L513.63 397.07 L513.88 397.18 L514.36 397.44 L514.61 397.59 L515.09 397.92 L515.34 398.11 L515.83 398.51 L516.08 398.74 L516.56 399.21 L516.81 399.47 L517.30 400.02 L517.69 400.47 L518.73 401.69 L520.02 403.19 L523.98 407.81 L526.02 409.51 L529.98 411.49 L531.56 412.51 L533.74 414.49 L534.55 415.90 L535.54 419.40 L536.22 422.58 L537.87 431.42 L539.15 434.40 L542.45 437.10 L543.88 439.07 L546.12 444.02 L547.26 446.01 L549.44 448.79 L550.56 450.06 L552.74 452.24 L553.72 454.65 L555.38 461.85 L556.17 465.65 L557.63 473.25 L559.11 475.23 L563.39 475.37 L565.66 475.67 L570.14 476.73 L572.59 477.58 L577.61 479.82 L580.06 481.18 L584.54 484.22 L586.74 485.92 L590.76 489.48 L592.43 491.11 L594.87 493.89 L595.84 495.18 L597.16 497.42 L597.50 498.00" stroke="#0000ee" stroke-width="3.80"/>
<path d="M469.97 385.63 L475.47 376.69 L478.48 372.28" stroke="#e01040" stroke-width="1.4" stroke-opacity="0.85"/>
<path d="M486.65 373.29 L489.81 378.45 L493.03 384.12 L496.19 389.65" stroke="#e01040" stroke-width="1.4" stroke-opacity="0.85"/>
</g>
<rect x="364.60" y="368.30" width="234.80" height="125.90" fill="none" stroke="#5c5c5c" stroke-width="1"/>
<path d="M408.62 494.20 v-2.4 M408.62 368.30 v2.4 M482.00 494.20 v-2.4 M482.00 368.30 v2.4 M555.38 494.20 v-2.4 M555.38 368.30 v2.4 M364.60 431.25 h2.4 M599.40 431.25 h-2.4" stroke="#5c5c5c" stroke-width="1" fill="none"/>
<text x="394.62" y="509.20" font-size="13.50" text-anchor="start">−10</text>
<text x="482.00" y="509.20" font-size="13.50" text-anchor="middle">0</text>
<text x="555.88" y="509.20" font-size="13.50" text-anchor="middle">10</text>
<text x="335.10" y="373.30" font-size="13.50" text-anchor="start">10</text>
<text x="347.60" y="365.30" font-size="9.60" text-anchor="start">0</text>
<text x="335.10" y="436.25" font-size="13.50" text-anchor="start">10</text>
<text x="347.60" y="428.25" font-size="9.60" text-anchor="start">−5</text>
<text x="335.10" y="499.20" font-size="13.50" text-anchor="start">10</text>
<text x="347.60" y="491.20" font-size="9.60" text-anchor="start">−10</text>
<g transform="translate(320.40 431.25) rotate(-90)">
<text transform="translate(-13.6 0) scale(1.45 1)" x="0" y="0" font-size="13.50" font-style="italic">f</text>
<text x="-7.2" y="7.4" font-size="9.80" font-style="italic">e</text>
<text x="-3.8" y="0" font-size="13.50">(</text>
<text x="4.5" y="0" font-size="13.50" font-style="italic">v</text>
<text x="10.5" y="0" font-size="13.50">)</text>
</g>
<text x="434.20" y="351.90" font-size="13.00" font-weight="bold" text-anchor="start">Case 6:</text>
<text x="482.60" y="351.90" font-size="13.50" font-style="italic" text-anchor="start">T</text>
<text x="489.20" y="358.10" font-size="9.80" font-style="italic" text-anchor="start">i</text>
<text x="492.80" y="351.90" font-size="13.50" font-style="italic" text-anchor="start">/</text>
<text x="500.20" y="351.90" font-size="13.50" font-style="italic" text-anchor="start">T</text>
<text x="506.20" y="358.50" font-size="9.80" font-style="italic" text-anchor="start">e</text>
<text x="515.40" y="351.90" font-size="13.50" text-anchor="start">=</text>
<text x="526.80" y="351.90" font-size="13.50" text-anchor="start">1</text>
<text x="371.90" y="390.80" font-size="13.50" text-anchor="start">ω</text>
<text x="380.90" y="397.60" font-size="10.00" font-style="italic" text-anchor="start">pe</text>
<text x="394.20" y="390.80" font-size="13.50" font-style="italic" text-anchor="start">t</text>
<text x="401.50" y="390.80" font-size="13.50" text-anchor="start">=</text>
<text x="411.90" y="390.80" font-size="13.50" text-anchor="start">2</text>
<text x="418.00" y="393.30" font-size="18.00" text-anchor="start">×</text>
<text x="426.40" y="390.80" font-size="13.50" text-anchor="start">10</text>
<text x="439.60" y="385.40" font-size="10.20" text-anchor="start">4</text>
<text x="397.40" y="411.80" font-size="13.50" text-anchor="start">1</text>
<text x="402.95" y="414.30" font-size="18.00" text-anchor="start">×</text>
<text x="412.40" y="411.80" font-size="13.50" text-anchor="start">10</text>
<text x="425.00" y="404.50" font-size="10.20" text-anchor="start">4</text>
<text x="397.70" y="426.60" font-size="13.50" text-anchor="start">4000</text>
<text x="397.50" y="439.00" font-size="13.50" text-anchor="start">1000</text>
<text x="464.00" y="472.90" font-size="13.50" font-style="italic" text-anchor="start">t</text>
<text x="470.60" y="472.90" font-size="13.50" text-anchor="start">=</text>
<text x="482.00" y="472.90" font-size="13.50" text-anchor="start">0</text>
<text x="161.50" y="519.80" font-size="13.50" font-style="italic" text-anchor="start">v</text>
<text x="166.90" y="519.80" font-size="13.50" font-style="italic" text-anchor="start">/</text>
<text x="175.70" y="519.80" font-size="13.50" font-style="italic" text-anchor="start">v</text>
<text x="181.30" y="526.80" font-size="9.20" font-style="italic" text-anchor="start">e</text>
<text x="470.80" y="519.80" font-size="13.50" font-style="italic" text-anchor="start">v</text>
<text x="476.20" y="519.80" font-size="13.50" font-style="italic" text-anchor="start">/</text>
<text x="485.00" y="519.80" font-size="13.50" font-style="italic" text-anchor="start">v</text>
<text x="490.60" y="526.80" font-size="9.20" font-style="italic" text-anchor="start">e</text>
</svg>
</div>
</body></html>
